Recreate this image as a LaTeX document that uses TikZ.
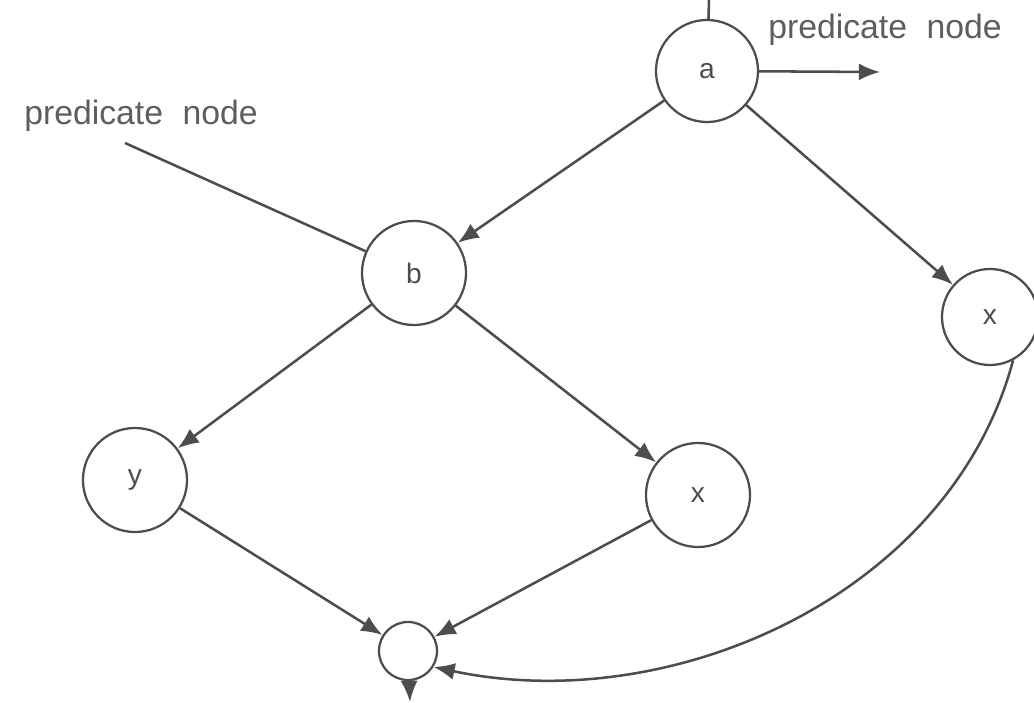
\documentclass[tikz,border=0pt]{standalone}
\usepackage{fontspec}
\setmainfont{Liberation Sans}
\usetikzlibrary{arrows.meta}

\definecolor{ink}{HTML}{4D4D4D}
\definecolor{txt}{HTML}{5E5E5E}

\begin{document}
\begin{tikzpicture}[x=0.025cm,y=-0.025cm,line width=1.8pt,draw=ink,
    >={Latex[length=15pt,width=12pt]}]

        \useasboundingbox (0,0) rectangle (1034,703);

        \begin{scope}[every node/.style={circle,draw=ink,line width=1.6pt,text=ink,font=\fontsize{20}{22}\selectfont}]
            \node[minimum size=2.55cm] (a) at (707,71) {a};
            \node[minimum size=2.6cm] (b) at (414,273) {b};
            \node[minimum size=2.4cm] (x1) at (990,317) {x};
            \node[minimum size=2.6cm] (y) at (135,480) {y};
            \node[minimum size=2.6cm] (x2) at (698,495) {x};
            \node[minimum size=1.45cm] (e) at (408,651) {};
        \end{scope}

        \begin{scope}[every node/.style={text=txt,font=\fontsize{24}{26}\selectfont}]
            \node (p1) at (141,116) {predicate\hspace{0.3em} node};
            \node (p2) at (885,30) {predicate\hspace{0.3em} node};
        \end{scope}

        \coordinate (ain) at (709,0);
        \coordinate (aout) at (880,72);
        \coordinate (bin) at (125,143);
        \coordinate (eout) at (410,702);

        \begin{scope}[every edge/.style={draw=ink,line width=1.8pt}]
            \path (ain) edge (a);
            \path [->] (a) edge (aout);
            \path (bin) edge (b);

            \path [->] (a) edge (b);
            \path [->] (a) edge (x1);

            \path [->] (b) edge (y);
            \path [->] (b) edge (x2);

            \path [->] (y) edge (e);
            \path [->] (x2) edge (e);

            \path [->] (x1.-62) edge [out=-105,in=-12,looseness=0.95] (e.-32);
            \path [->] (e) edge (eout);
        \end{scope}

    \end{tikzpicture}
\end{document}
